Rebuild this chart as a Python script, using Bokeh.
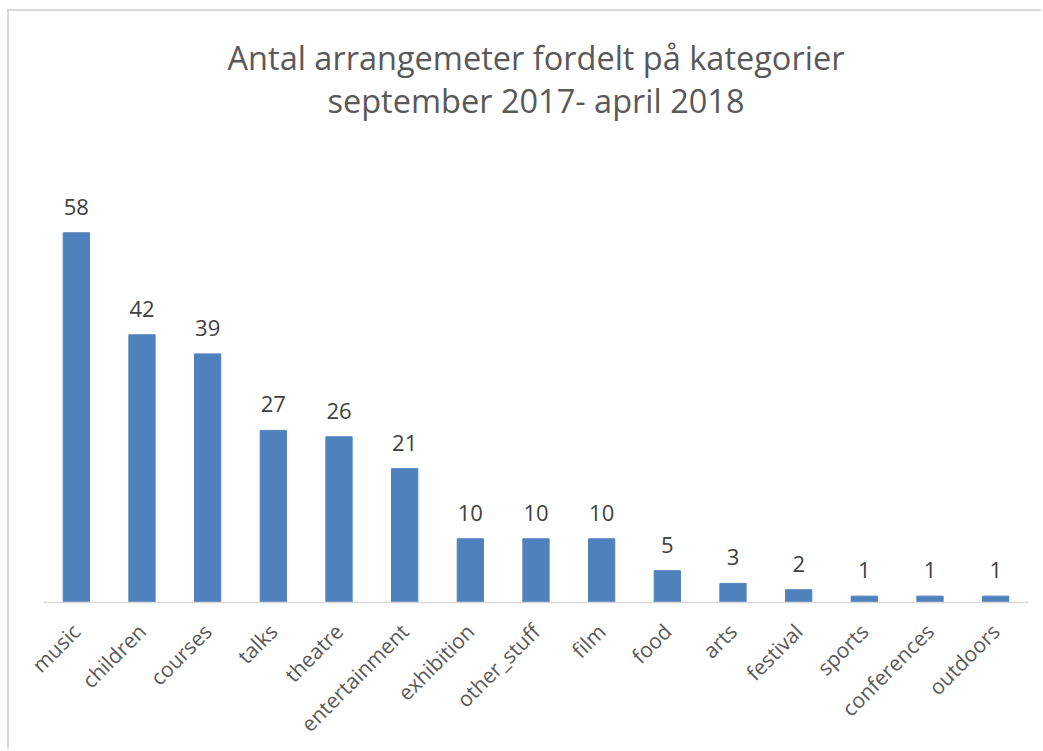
import math
from bokeh.plotting import figure
from bokeh.models import ColumnDataSource, FactorRange, Range1d, Label
from bokeh.core.properties import value
from bokeh.embed import file_html
from bokeh.resources import INLINE

categories = ["music", "children", "courses", "talks", "theatre", "entertainment",
              "exhibition", "other_stuff", "film", "food", "arts", "festival",
              "sports", "conferences", "outdoors"]
counts = [58, 42, 39, 27, 26, 21, 10, 10, 10, 5, 3, 2, 1, 1, 1]
title_lines = ["Antal arrangemeter fordelt på kategorier", "september 2017- april 2018"]

FONT = "Open Sans"
src = ColumnDataSource(dict(cat=categories, n=counts, lbl=[str(c) for c in counts]))

# canvas starts at (9, 11) because of margin + css border
p = figure(width=1034, height=740,
           x_range=FactorRange(factors=categories, range_padding=0),
           y_range=Range1d(0, 591 / 6.374),
           output_backend="svg", toolbar_location=None, y_axis_location=None,
           min_border_left=34, min_border_right=15, min_border_top=0,
           min_border_bottom=149)
p.styles = {"border-left": "2px solid #d9d9d9", "border-top": "2px solid #d9d9d9",
            "margin-left": "7px", "margin-top": "9px"}
p.outline_line_color = None
p.xgrid.grid_line_color = None
p.ygrid.grid_line_color = None
p.background_fill_color = "white"
p.border_fill_color = "white"

p.vbar(x="cat", top="n", width=0.4, source=src, color="#4F81BD")
p.text(x="cat", y="n", text="lbl", source=src, text_align="center",
       text_baseline="alphabetic", y_offset=-26, text_font=value(FONT),
       text_font_size="22px", text_color="#404040")

ax = p.xaxis[0]
ax.major_label_orientation = math.pi / 4
ax.major_label_text_font = FONT
ax.major_label_text_font_size = "21px"
ax.major_label_text_color = "#595959"
ax.axis_line_color = "#d9d9d9"
ax.axis_line_width = 1.5
ax.major_tick_line_color = None
ax.major_tick_out = 0
ax.major_tick_in = 0
ax.major_label_standoff = 25

for txt, yy in zip(title_lines, [85.5, 78.75]):
    p.add_layout(Label(x=7.5, y=yy, text=txt, text_align="center",
                       text_baseline="alphabetic", text_font=FONT,
                       text_font_size="32.5px", text_color="#595959"))

open("out.html", "w").write(file_html(p, INLINE))
